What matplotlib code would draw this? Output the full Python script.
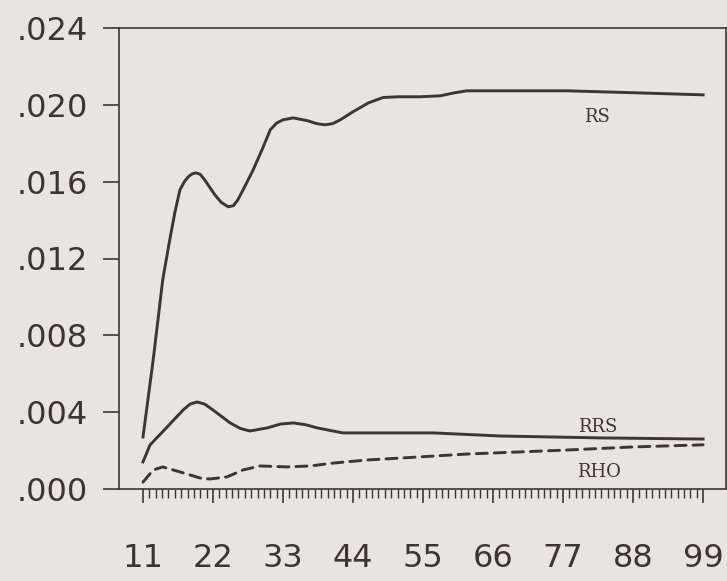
import matplotlib
matplotlib.use('Agg')
import matplotlib.pyplot as plt
from matplotlib.ticker import FixedLocator

# values (y in units of 0.001)
rs_x = [11.0, 12.6, 14.1, 15.2, 16.0, 16.8, 17.5, 18.1, 18.7, 19.3, 20.0, 20.7, 21.5,
        22.3, 23.3, 24.4, 25.2, 25.9, 27.0, 28.3, 29.7, 31.0, 32.0, 33.0, 34.6, 36.9,
        38.3, 39.6, 40.8, 42.0, 44.0, 46.4, 48.7, 51.0, 54.6, 57.7, 60.0, 61.9, 67.1,
        77.7, 88.0, 99.0]
rs_y = [2.71, 6.72, 10.89, 12.97, 14.38, 15.57, 16.00, 16.25, 16.40, 16.46, 16.38, 16.09,
        15.70, 15.31, 14.92, 14.69, 14.75, 15.05, 15.75, 16.61, 17.66, 18.70, 19.05, 19.22,
        19.32, 19.17, 19.02, 18.96, 19.02, 19.22, 19.64, 20.10, 20.38, 20.42, 20.42, 20.47,
        20.63, 20.73, 20.73, 20.73, 20.63, 20.52]

rrs_x = [11.0, 12.1, 14.8, 17.3, 18.4, 19.5, 20.7, 22.0, 24.7, 26.3, 27.8, 30.5, 32.6,
         34.6, 36.5, 38.4, 42.4, 48.7, 56.6, 67.1, 82.9, 99.0]
rrs_y = [1.41, 2.29, 3.23, 4.11, 4.42, 4.53, 4.42, 4.11, 3.44, 3.15, 3.02, 3.18, 3.38,
         3.44, 3.35, 3.18, 2.92, 2.92, 2.92, 2.76, 2.66, 2.60]

rho_x = [11.0, 12.6, 14.1, 16.8, 20.0, 21.5, 24.2, 26.7, 29.4, 33.6, 37.3, 40.9, 46.2,
         51.4, 61.9, 77.7, 88.0, 99.0]
rho_y = [0.36, 0.99, 1.15, 0.89, 0.57, 0.52, 0.63, 0.99, 1.20, 1.15, 1.20, 1.35, 1.51,
         1.61, 1.82, 2.03, 2.19, 2.30]

x_ticks = [11, 22, 33, 44, 55, 66, 77, 88, 99]
x_labels = ['11', '22', '33', '44', '55', '66', '77', '88', '99']
y_ticks = [0.0, 0.004, 0.008, 0.012, 0.016, 0.020, 0.024]
y_labels = ['.000', '.004', '.008', '.012', '.016', '.020', '.024']

ink = '#3f3431'
paper = '#e8e4de'

fig = plt.figure(figsize=(7.27, 5.81), dpi=100, facecolor=paper)
ax = fig.add_axes([119 / 727, 92 / 581, 607 / 727, 461 / 581])
ax.set_facecolor(paper)

k = 0.001
ax.plot(rs_x, [v * k for v in rs_y], color=ink, lw=2.1, solid_joinstyle='round')
ax.plot(rrs_x, [v * k for v in rrs_y], color=ink, lw=2.1, solid_joinstyle='round')
ax.plot(rho_x, [v * k for v in rho_y], color=ink, lw=2.1, linestyle=(0, (3.8, 2.4)),
        dash_capstyle='round')

ax.set_xlim(7.23, 102.6)
ax.set_ylim(0, 0.024)

for s in ax.spines.values():
    s.set_color(ink)
    s.set_linewidth(1.2)

ax.xaxis.set_major_locator(FixedLocator(x_ticks))
ax.xaxis.set_minor_locator(FixedLocator(list(range(11, 100))))
ax.set_xticklabels(x_labels)
ax.yaxis.set_major_locator(FixedLocator(y_ticks))
ax.set_yticklabels(y_labels)

ax.tick_params(axis='x', which='major', direction='out', length=10, width=1.2,
               color=ink, pad=29, labelsize=23, labelcolor=ink)
ax.tick_params(axis='x', which='minor', direction='out', length=6.5, width=1.0, color=ink)
ax.tick_params(axis='y', which='major', direction='out', length=11.5, width=1.2,
               color=ink, pad=11, labelsize=23, labelcolor=ink)

lbl = dict(family='DejaVu Serif', fontsize=13, color=ink, ha='center', va='center')
ax.text(82.4, 19.375 * k, 'RS', **lbl)
ax.text(82.5, 3.23 * k, 'RRS', **lbl)
ax.text(82.7, 0.885 * k, 'RHO', **lbl)

fig.savefig('out.png', dpi=100, facecolor=paper)
